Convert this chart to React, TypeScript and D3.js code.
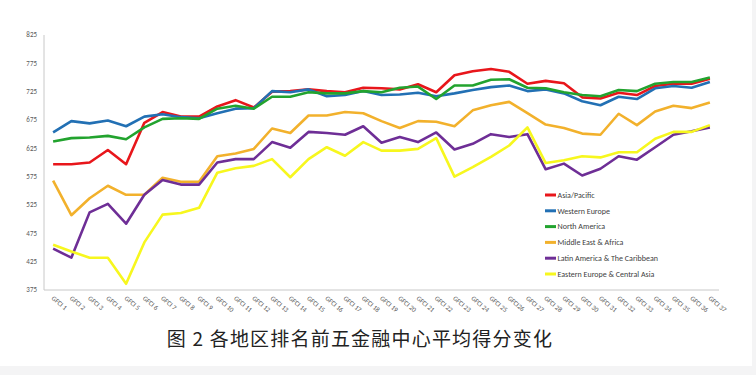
import React from 'react'
import * as d3 from 'd3'

const labels = Array.from({ length: 37 }, (_, i) => (i === 25 ? 'GFCI26' : `GFCI ${i + 1}`))

const seriesNames = [
  'Asia/Pacific',
  'Western Europe',
  'North America',
  'Middle East & Africa',
  'Latin America & The Caribbean',
  'Eastern Europe & Central Asia',
]

const seriesColors = ['#E8161B', '#2270B4', '#22A32E', '#F2B12C', '#6E2E96', '#F7F71E']

const asiaPacific = [597, 597, 600, 622, 597, 670, 689, 681, 681, 699, 710, 697, 725, 726, 729, 726, 724, 732, 731, 729, 738, 724, 754, 761, 765, 760, 739, 744, 740, 715, 713, 723, 719, 735, 739, 739, 748]
const westernEurope = [653, 673, 669, 674, 664, 681, 685, 680, 678, 687, 695, 696, 726, 724, 729, 717, 719, 726, 719, 720, 723, 717, 722, 728, 733, 736, 726, 729, 722, 708, 701, 716, 712, 731, 735, 732, 742]
const northAmerica = [637, 643, 644, 647, 641, 662, 677, 678, 677, 695, 700, 695, 716, 716, 724, 722, 722, 726, 724, 732, 734, 712, 736, 736, 746, 747, 732, 731, 724, 719, 717, 728, 726, 739, 742, 742, 750]
const middleEastAfrica = [568, 507, 537, 559, 543, 543, 573, 566, 566, 611, 616, 624, 660, 652, 683, 683, 689, 687, 673, 661, 673, 672, 664, 692, 701, 707, 687, 667, 661, 651, 649, 686, 666, 690, 700, 696, 706]
const latinAmerica = [448, 432, 512, 527, 492, 543, 569, 561, 561, 600, 606, 606, 636, 626, 654, 652, 649, 664, 635, 645, 636, 653, 623, 633, 650, 645, 650, 588, 598, 577, 589, 611, 605, 627, 649, 655, 662]
const easternEurope = [455, 443, 432, 432, 386, 459, 508, 511, 520, 582, 590, 594, 606, 574, 606, 627, 612, 636, 621, 621, 624, 643, 575, 592, 610, 630, 662, 599, 604, 611, 609, 618, 618, 642, 654, 654, 666]

const allSeries = [asiaPacific, westernEurope, northAmerica, middleEastAfrica, latinAmerica, easternEurope]

const yTicks = [375, 425, 475, 525, 575, 625, 675, 725, 775, 825]

const title = '图 2  各地区排名前五金融中心平均得分变化'

export default function App() {
  const W = 756
  const H = 375
  const left = 44
  const right = 719
  const top = 35
  const bottom = 290

  const x = d3.scaleBand<string>().domain(labels).range([left, right])
  const cx = (l: string) => (x(l) as number) + x.bandwidth() / 2
  const y = d3.scaleLinear().domain([375, 825]).range([bottom, top])

  const line = d3
    .line<number>()
    .x((_, i) => cx(labels[i]))
    .y((d) => y(d))

  const legendX = 545
  const legendY = 195
  const legendStep = 15.8

  return (
    <svg
      width={W}
      height={H}
      style={{ position: 'absolute', left: 0, top: 0, background: '#fff' }}
      fontFamily="Calibri, 'Liberation Sans', Arial, sans-serif"
    >
      <rect x={0} y={366} width={W} height={9} fill="#f4f4f5" />
      <rect x={752} y={0} width={4} height={H} fill="#f4f4f5" />

      {/* axes */}
      <line x1={left} x2={left} y1={top} y2={bottom} stroke="#c8c8c8" strokeWidth={1} />
      <line x1={left} x2={right} y1={bottom} y2={bottom} stroke="#c8c8c8" strokeWidth={1} />

      {yTicks.map((t) => (
        <text key={t} x={37} y={y(t) + 2.3} textAnchor="end" fontSize={7} fill="#595959">
          {t}
        </text>
      ))}

      {labels.map((l) => (
        <text
          key={l}
          transform={`translate(${cx(l) - 2},${bottom + 9}) rotate(40)`}
          fontSize={6.8}
          fill="#595959"
        >
          {l}
        </text>
      ))}

      {allSeries.map((s, k) => (
        <path
          key={seriesNames[k]}
          d={line(s) || ''}
          fill="none"
          stroke={seriesColors[k]}
          strokeWidth={2.6}
          strokeLinejoin="round"
        />
      ))}

      {seriesNames.map((n, k) => (
        <g key={n} transform={`translate(${legendX},${legendY + k * legendStep})`}>
          <line x1={0} x2={11} y1={0} y2={0} stroke={seriesColors[k]} strokeWidth={3} />
          <text x={12.5} y={2.8} fontSize={8} fill="#404040">
            {n}
          </text>
        </g>
      ))}

      <text
        x={360}
        y={346}
        textAnchor="middle"
        fontSize={19}
        letterSpacing={1.2}
        fill="#222"
        fontFamily="'Noto Sans CJK SC', sans-serif"
      >
        {title}
      </text>
    </svg>
  )
}
